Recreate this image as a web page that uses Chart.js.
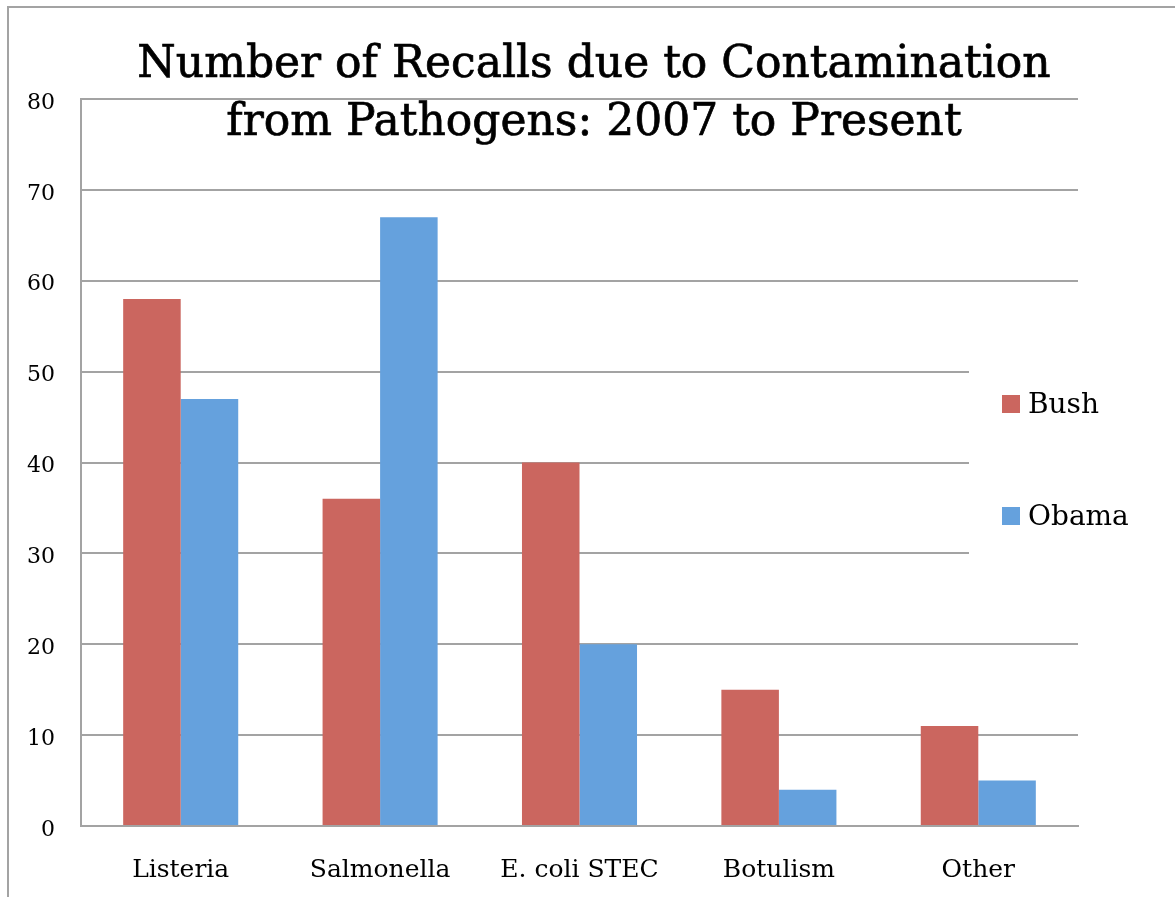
<!DOCTYPE html>
<html>
<head>
<meta charset="utf-8">
<script src="https://cdn.jsdelivr.net/npm/chart.js@4.4.1/dist/chart.umd.min.js"></script>
<style>
    html, body { margin: 0; padding: 0; background: #fff; }
    #recallsChart { display: block; }
</style>
</head>
<body>
<canvas id="recallsChart" width="1175" height="897"></canvas>
<script>
const titleLines = ['Number of Recalls due to Contamination', 'from Pathogens: 2007 to Present']
const pathogens = ['Listeria', 'Salmonella', 'E. coli STEC', 'Botulism', 'Other']
const bushRecalls = [58, 36, 40, 15, 11]
const obamaRecalls = [47, 67, 20, 4, 5]
const yTicks = [0, 10, 20, 30, 40, 50, 60, 70, 80]

const gridColor = '#A3A3A3'
const serif = "'DejaVu Serif', serif"

const init = () => {
    const ctx = document.getElementById('recallsChart')

    // outer frame of the slide (top and left edges only)
    const framePlugin = {
        id: 'frame',
        beforeDraw(chart) {
            const c = chart.ctx
            c.save()
            c.fillStyle = '#fff'
            c.fillRect(0, 0, chart.width, chart.height)
            c.strokeStyle = gridColor
            c.lineWidth = 2
            c.beginPath()
            c.moveTo(8, chart.height)
            c.lineTo(8, 7)
            c.lineTo(chart.width, 7)
            c.stroke()
            c.restore()
        }
    }

    // legend sits over the plot and hides the gridlines behind it; title overlaps the plot too
    const overlayPlugin = {
        id: 'overlay',
        afterDraw(chart) {
            const c = chart.ctx
            c.save()
            c.fillStyle = '#fff'
            c.fillRect(969, 310, chart.width - 969, 300)

            const rows = [404, 516]
            c.font = '28px ' + serif
            c.textBaseline = 'middle'
            c.textAlign = 'left'
            chart.data.datasets.forEach((ds, i) => {
                c.fillStyle = ds.backgroundColor
                c.fillRect(1002, rows[i] - 9, 18, 18)
                c.fillStyle = '#000'
                c.fillText(ds.label, 1028, rows[i] + 2)
            })

            c.font = '44px ' + serif
            c.textAlign = 'center'
            c.textBaseline = 'alphabetic'
            c.fillStyle = '#000'
            c.strokeStyle = '#000'
            c.lineWidth = 0.7
            titleLines.forEach((line, i) => {
                c.fillText(line, 594, 77 + i * 58)
                c.strokeText(line, 594, 77 + i * 58)
            })
            c.restore()
        }
    }

    new Chart(ctx, {
        type: 'bar',
        data: {
            labels: pathogens,
            datasets: [
                {
                    label: 'Bush',
                    data: bushRecalls,
                    backgroundColor: '#CB665F',
                    borderWidth: 0,
                },
                {
                    label: 'Obama',
                    data: obamaRecalls,
                    backgroundColor: '#65A1DD',
                    borderWidth: 0,
                }
            ]
        },
        options: {
            responsive: false,
            animation: false,
            devicePixelRatio: 1,
            layout: {
                padding: {top: 99, right: 97, left: 0, bottom: 0}
            },
            datasets: {
                bar: {categoryPercentage: 0.577, barPercentage: 1}
            },
            plugins: {
                legend: {display: false},
                title: {display: false},
                tooltip: {enabled: false}
            },
            scales: {
                x: {
                    grid: {display: false},
                    border: {display: true, color: gridColor, width: 2},
                    ticks: {
                        color: '#000',
                        font: {family: serif, size: 25},
                        padding: 21,
                        maxRotation: 0
                    },
                    afterFit: (scale) => { scale.height = 71 }
                },
                y: {
                    min: 0,
                    max: 80,
                    grid: {color: gridColor, lineWidth: 2, drawTicks: false},
                    border: {display: true, color: gridColor, width: 2},
                    ticks: {
                        color: '#000',
                        font: {family: serif, size: 22},
                        padding: 26,
                        labelOffset: 4
                    },
                    afterBuildTicks: (scale) => { scale.ticks = yTicks.map(v => ({value: v})) },
                    afterFit: (scale) => { scale.width = 81 }
                }
            }
        },
        plugins: [framePlugin, overlayPlugin]
    })
}

document.addEventListener('DOMContentLoaded', init)
</script>
</body>
</html>
